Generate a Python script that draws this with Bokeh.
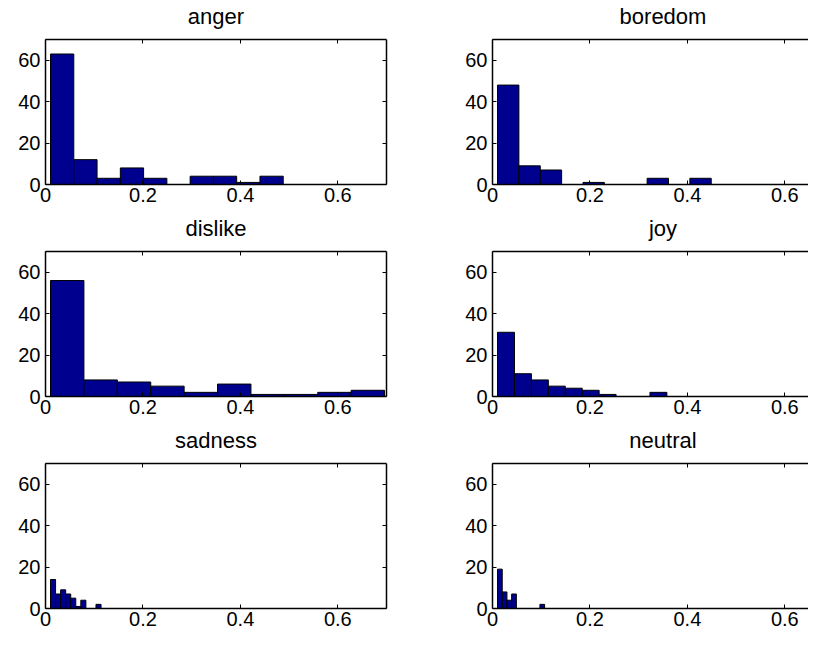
import numpy as np
from bokeh.plotting import figure
from bokeh.layouts import column, row
from bokeh.models import LinearAxis, FixedTicker, Range1d
from bokeh.embed import file_html
from bokeh.resources import INLINE

# ---- data ----
emotions = ["anger", "boredom", "dislike", "joy", "sadness", "neutral"]

anger_counts = [63, 12, 3, 8, 3, 0, 4, 4, 1, 4]
anger_range = (0.0103, 0.488)
boredom_counts = [48, 9, 7, 0, 1, 0, 0, 3, 0, 3]
boredom_range = (0.0103, 0.449)
dislike_counts = [56, 8, 7, 5, 2, 6, 1, 1, 2, 3]
dislike_range = (0.0103, 0.696)
joy_counts = [31, 11, 8, 5, 4, 3, 1, 0, 0, 2]
joy_range = (0.0103, 0.358)
sadness_counts = [14, 7, 9, 7, 5, 1, 4, 0, 0, 2]
sadness_range = (0.0103, 0.114)
neutral_counts = [19, 8, 4, 7, 0, 0, 0, 0, 0, 2]
neutral_range = (0.0103, 0.107)

x_ticks = [0, 0.2, 0.4, 0.6]
x_tick_labels = ["0", "0.2", "0.4", "0.6"]
y_ticks = [0, 20, 40, 60]
y_tick_labels = ["0", "20", "40", "60"]
x_full = (0, 0.7)
y_full = (0, 70)

series = {
    "anger": (anger_counts, anger_range),
    "boredom": (boredom_counts, boredom_range),
    "dislike": (dislike_counts, dislike_range),
    "joy": (joy_counts, joy_range),
    "sadness": (sadness_counts, sadness_range),
    "neutral": (neutral_counts, neutral_range),
}

FONT = "Liberation Sans"
BAR = "#00008F"


def style_axis(ax, labels=True, standoff=5):
    ax.axis_line_color = "black"
    ax.axis_line_width = 1.5
    ax.major_tick_in = 4
    ax.major_tick_out = 0
    ax.major_tick_line_color = "black"
    ax.major_tick_line_width = 1
    ax.minor_tick_line_color = None
    ax.major_label_text_font = FONT
    ax.major_label_text_color = "black"
    if labels:
        ax.major_label_text_font_size = "20px"
        ax.major_label_standoff = standoff
    else:
        ax.major_label_text_font_size = "0px"
        ax.major_label_standoff = 0


def make(name, right_col, row_idx):
    counts, (lo, hi) = series[name]
    bt = 39
    bb = 27 if row_idx == 2 else 28
    fh = 145
    full_w = 341
    if right_col:
        bl, br, fw = 66, 0, 316
    else:
        bl, br, fw = 45, 40, full_w
    xend = x_full[1] * fw / full_w
    p = figure(width=bl + fw + br, height=bt + fh + bb,
               x_range=Range1d(x_full[0], xend), y_range=Range1d(*y_full),
               output_backend="svg", toolbar_location=None,
               x_axis_location=None, y_axis_location=None,
               min_border=0, min_border_left=bl, min_border_right=br,
               min_border_top=bt, min_border_bottom=bb, title=name)
    p.outline_line_color = None
    p.background_fill_color = "white"
    p.border_fill_color = "white"
    p.grid.visible = False
    p.title.text_font = FONT
    p.title.text_font_size = "22px"
    p.title.text_font_style = "normal"
    p.title.text_color = "black"
    p.title.align = "center"
    p.title.standoff = 0
    # lift the title above the frame; on the cropped right-hand panels also
    # shift it so that it stays centred over the full 0..0.7 axis
    shift = (full_w - fw) if right_col else 0
    p.title.padding = dict(left=shift, right=0, top=0, bottom=11)

    xt = FixedTicker(ticks=x_ticks)
    yt = FixedTicker(ticks=y_ticks)
    xo = dict(zip(x_ticks, x_tick_labels))
    yo = dict(zip(y_ticks, y_tick_labels))

    below = LinearAxis(ticker=xt, major_label_overrides=xo)
    style_axis(below, standoff=3)
    p.add_layout(below, "below")
    left = LinearAxis(ticker=yt, major_label_overrides=yo)
    style_axis(left, standoff=5)
    p.add_layout(left, "left")
    above = LinearAxis(ticker=xt, major_label_overrides={t: "" for t in x_ticks})
    style_axis(above, labels=False)
    p.add_layout(above, "above")
    if not right_col:
        rax = LinearAxis(ticker=yt, major_label_overrides={t: "" for t in y_ticks})
        style_axis(rax, labels=False)
        p.add_layout(rax, "right")

    edges = np.linspace(lo, hi, len(counts) + 1)
    p.quad(left=edges[:-1], right=edges[1:], bottom=0, top=counts,
           fill_color=BAR, line_color="black", line_width=1)
    return p


figs = []
for i, name in enumerate(emotions):
    figs.append(make(name, right_col=(i % 2 == 1), row_idx=i // 2))

layout = column(row(figs[0], figs[1]), row(figs[2], figs[3]), row(figs[4], figs[5]))

open("out.html", "w").write(file_html(layout, INLINE))
